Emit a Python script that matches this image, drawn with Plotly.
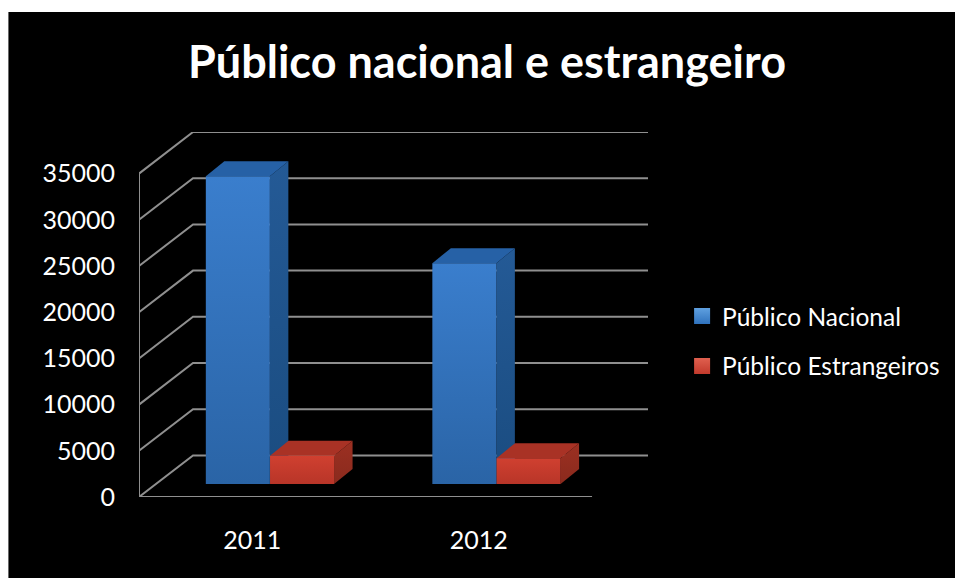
import plotly.graph_objects as go

# Chart data
years = ["2011", "2012"]
publico_nacional = [33300, 23900]
publico_estrangeiros = [3050, 2800]
value_ticks = [0, 5000, 10000, 15000, 20000, 25000, 30000, 35000]
value_labels = ["0", "5000", "10000", "15000", "20000", "25000", "30000", "35000"]

# Pseudo-3D projection, expressed in axis units
WALL_DX, WALL_DY = 0.2384, 4502      # floor front edge to back wall
BAR_DX, BAR_DY = 0.0817, 1623        # front of a bar to its back
BAR_LIFT = 1407                      # bars stand slightly behind the front edge
BAR_W = 0.2826
X_LEFT, X_RIGHT, X_END = -0.5, 1.5, 1.747

BLUE = dict(front=["#2a64a6", "#3a7ecd"], side=["#1a4c80", "#245a96"], top="#2661a6")
RED = dict(front=["#b83528", "#d04030"], side=["#8a2a1d", "#9c3022"], top="#a93225")
GRID = "#8f8f8f"

fig = go.Figure()

# Wall grid: each value runs up the side wall, then along the back wall
for v in value_ticks:
    fig.add_trace(go.Scatter(
        x=[X_LEFT, X_LEFT + WALL_DX, X_END],
        y=[v, v + WALL_DY, v + WALL_DY],
        mode="lines", line=dict(color=GRID, width=2), cliponaxis=False,
        hoverinfo="skip", showlegend=False))

# Front edge of the floor and the vertical axis
fig.add_trace(go.Scatter(
    x=[X_LEFT, X_LEFT, X_RIGHT], y=[value_ticks[-1], 0, 0],
    mode="lines", line=dict(color=GRID, width=2), cliponaxis=False,
    hoverinfo="skip", showlegend=False))


def polygon(xs, ys, **style):
    fig.add_trace(go.Scatter(
        x=xs, y=ys, mode="lines", fill="toself", line=dict(width=0),
        hoverinfo="skip", showlegend=False, **style))


def shaded(pair):
    # dark at the bottom of a face, light at the top
    return dict(type="vertical", colorscale=[[0, pair[0]], [1, pair[1]]])


def bar3d(x0, value, colours):
    x1 = x0 + BAR_W
    low, high = BAR_LIFT, BAR_LIFT + value
    # right side face
    polygon([x1, x1 + BAR_DX, x1 + BAR_DX, x1],
            [low, low + BAR_DY, high + BAR_DY, high],
            fillcolor=colours["side"][1], fillgradient=shaded(colours["side"]))
    # top face
    polygon([x0, x0 + BAR_DX, x1 + BAR_DX, x1],
            [high, high + BAR_DY, high + BAR_DY, high],
            fillcolor=colours["top"])
    # front face
    polygon([x0, x1, x1, x0], [low, low, high, high],
            fillcolor=colours["front"][1], fillgradient=shaded(colours["front"]))


for i in range(len(years)):
    bar3d(i - 0.205, publico_nacional[i], BLUE)
    bar3d(i + 0.0785, publico_estrangeiros[i], RED)

# Legend-only entries
for name, colour, light in [("Público Nacional", "#2f72bd", "#5fa0e0"),
                            ("Público Estrangeiros", "#c23a2c", "#e0604f")]:
    fig.add_trace(go.Scatter(
        x=[None], y=[None], name=name, legendgroup=name, mode="markers",
        marker=dict(symbol="square", size=16, color=light,
                    gradient=dict(type="vertical", color=colour))))

fig.update_layout(
    width=955, height=578,
    margin=dict(l=139, r=307, t=132, b=81, autoexpand=False),
    paper_bgcolor="white", plot_bgcolor="rgba(0,0,0,0)",
    font=dict(family="Lato", color="white", size=24.5),
    title=dict(text="<b>Público nacional e estrangeiro</b>",
               font=dict(family="Lato", size=45, color="white"),
               x=0.51, xanchor="center", y=0.892, yanchor="middle"),
    xaxis=dict(range=[X_LEFT, X_END], tickmode="array",
               tickvals=list(range(len(years))), ticktext=years,
               showgrid=False, zeroline=False, showline=False, ticks="",
               ticklabelstandoff=26, tickfont=dict(size=25)),
    yaxis=dict(range=[0, 39502], tickmode="array", tickvals=value_ticks,
               ticktext=value_labels,
               showgrid=False, zeroline=False, showline=False, ticks="",
               ticklabelstandoff=23, tickfont=dict(size=25)),
    legend=dict(x=1.067, xanchor="left", y=0.427, yanchor="middle",
                font=dict(size=24.5), tracegroupgap=15, itemwidth=30,
                bgcolor="rgba(0,0,0,0)"),
    shapes=[dict(type="rect", xref="paper", yref="paper", layer="below",
                 x0=(8 - 139) / 509, x1=(955 - 139) / 509,
                 y0=(497 - 578) / 365, y1=(497 - 12) / 365,
                 fillcolor="black", line=dict(width=0)),
            dict(type="line", xref="paper", yref="paper", layer="below",
                 x0=(8.5 - 139) / 509, x1=(8.5 - 139) / 509,
                 y0=(497 - 578) / 365, y1=(497 - 12) / 365,
                 line=dict(color="#6a6a6a", width=1))],
)

fig.write_html("out.html")
